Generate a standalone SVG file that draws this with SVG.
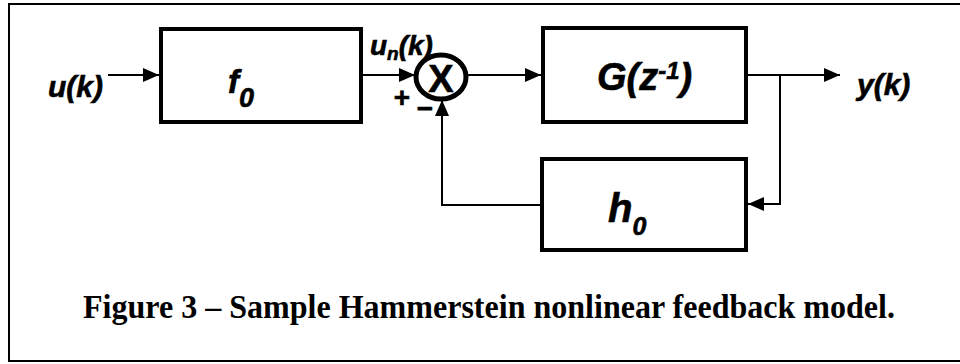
<svg xmlns="http://www.w3.org/2000/svg" width="960" height="364" viewBox="0 0 960 364">
  <defs>
    <marker id="arr" markerUnits="userSpaceOnUse" markerWidth="17" markerHeight="15" refX="16" refY="7" orient="auto">
      <path d="M0,0 L16,7 L0,14 Z" fill="#000"/>
    </marker>
    <style>
      .box { fill: #fff; stroke: #000; stroke-width: 4; }
      .wire { fill: none; stroke: #000; stroke-width: 2; }
      .lbl { font-family: "Liberation Sans", Arial, sans-serif; font-weight: bold; font-style: italic; fill: #000; stroke: #000; stroke-width: 0.6; }
      .sign { font-family: "Liberation Sans", Arial, sans-serif; font-weight: bold; fill: #000; stroke: #000; stroke-width: 0.6; }
      .cap { font-family: "Liberation Serif", "Times New Roman", serif; font-weight: bold; fill: #000; }
    </style>
  </defs>
  <rect width="960" height="364" fill="#fff"/>
  <path d="M962,4 H9 V361 H962" fill="none" stroke="#000" stroke-width="2"/>

  <g id="connectors">
    <line class="wire" x1="108" y1="75" x2="159" y2="75" marker-end="url(#arr)"/>
    <line class="wire" x1="363" y1="75" x2="415" y2="75" marker-end="url(#arr)"/>
    <line class="wire" x1="467" y1="75" x2="541" y2="75" marker-end="url(#arr)"/>
    <line class="wire" x1="748" y1="75" x2="840" y2="75" marker-end="url(#arr)"/>
    <polyline class="wire" points="780,75 780,204 748,204" marker-end="url(#arr)"/>
    <polyline class="wire" points="541,205 442,205 442,100" marker-end="url(#arr)"/>
  </g>

  <g id="input">
    <text class="lbl" x="48" y="97" font-size="30">u(k)</text>
  </g>

  <g id="f0">
    <rect class="box" x="161" y="29" width="200" height="93"/>
    <text class="lbl" x="228" y="93" font-size="33">f<tspan font-size="27" dy="14">0</tspan></text>
  </g>

  <g id="sum">
    <ellipse cx="441" cy="77" rx="25" ry="22" fill="#fff" stroke="#000" stroke-width="5"/>
    <text class="sign" x="441" y="92" font-size="38" text-anchor="middle">X</text>
    <text class="lbl" x="370" y="55" font-size="28">u<tspan font-size="19" dy="5">n</tspan><tspan dy="-5">(k)</tspan></text>
    <text class="sign" x="402" y="107" font-size="28" text-anchor="middle">+</text>
    <text class="sign" x="425" y="118" font-size="28" text-anchor="middle">−</text>
  </g>

  <g id="G">
    <rect class="box" x="543" y="28" width="203" height="94"/>
    <text class="lbl" x="597" y="90" font-size="38">G(z<tspan font-size="24" dy="-11">-1</tspan><tspan dy="11">)</tspan></text>
  </g>

  <g id="output">
    <text class="lbl" x="857" y="95" font-size="30">y(k)</text>
  </g>

  <g id="h0">
    <rect class="box" x="542" y="159" width="204" height="91"/>
    <text class="lbl" x="608" y="222" font-size="40">h<tspan font-size="25" dy="13">0</tspan></text>
  </g>

  <g id="caption">
    <text class="cap" x="83" y="318" font-size="34" textLength="812" lengthAdjust="spacingAndGlyphs">Figure 3 – Sample Hammerstein nonlinear feedback model.</text>
  </g>
</svg>
